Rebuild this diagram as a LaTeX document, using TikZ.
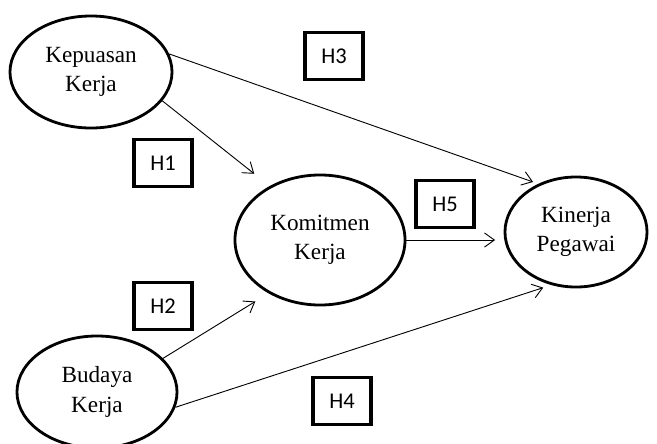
\documentclass[tikz,border=0pt]{standalone}
\usepackage{fontspec}
\setmainfont{Liberation Serif}
\newfontfamily\boxfont{Carlito}
\usetikzlibrary{shapes.geometric, arrows.meta}

\begin{document}
\begin{tikzpicture}[x=0.025cm, y=-0.025cm,
    varnode/.style={draw, ellipse, line width=2pt, inner sep=0pt, align=center,
        font=\fontsize{16.5}{21}\selectfont},
    hyp/.style={draw, line width=2.2pt, inner sep=0pt, minimum width=1.45cm,
        minimum height=1.18cm, font=\boxfont\fontsize{16}{18}\selectfont},
    link/.style={line width=0.65pt, -{Straight Barb[length=7pt, width=10pt]}}]
            \useasboundingbox (0,0) rectangle (657,443);

            \node[varnode, minimum width=4.05cm, minimum height=2.8cm] (kepuasan) at (91,72) {Kepuasan\\Kerja};
            \node[varnode, minimum width=4.25cm, minimum height=3.25cm] (komitmen) at (320,240) {Komitmen\\Kerja};
            \node[varnode, minimum width=3.55cm, minimum height=2.75cm] (kinerja) at (576,232) {Kinerja\\Pegawai};
            \node[varnode, minimum width=4cm, minimum height=2.8cm] (budaya) at (97,392) {Budaya\\Kerja};

            \node[hyp] (h1) at (163,163) {H1};
            \node[hyp] (h2) at (163,306) {H2};
            \node[hyp] (h3) at (334,56) {H3};
            \node[hyp] (h4) at (342,401) {H4};
            \node[hyp] (h5) at (445,204) {H5};

            \draw[link, shorten >=4pt] (kepuasan.13) to (kinerja.128);
            \draw[link, shorten >=14pt] (kepuasan.-22) to (komitmen.133);
            \draw[link, shorten >=11pt] (budaya.27) to (komitmen.-134);
            \draw[link, shorten >=6pt] (budaya.-11) to (kinerja.-115);
            \draw[link, shorten >=6pt] (komitmen.east) to (komitmen.east -| kinerja.west);
      \end{tikzpicture}
\end{document}
